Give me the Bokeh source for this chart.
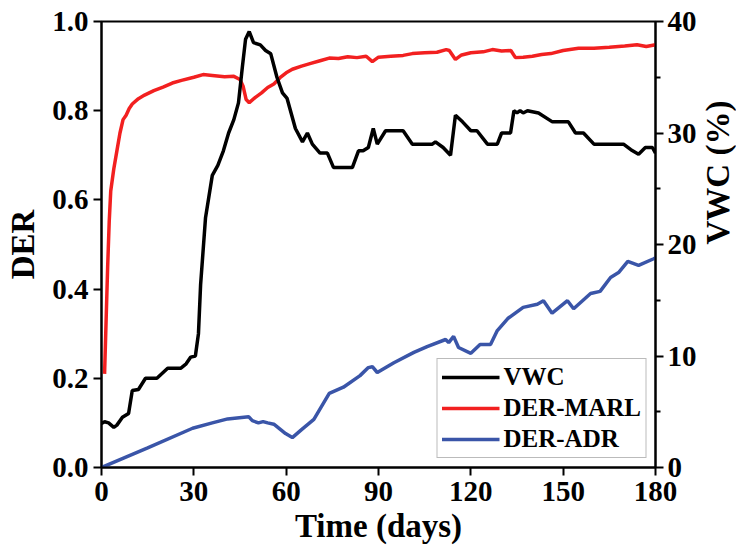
import math
from bokeh.plotting import figure
from bokeh.models import (Range1d, LinearAxis, Legend, LegendItem, FixedTicker,
                          CustomJSTickFormatter)
from bokeh.embed import file_html
from bokeh.resources import INLINE

# ---- data ----
vwc_days = [0, 1, 2.3, 4, 5, 6.8, 8.8, 10, 12, 14.3, 18, 21.5, 25.7, 27.5, 29, 30.5,
            31.5, 32.2, 33.8, 36, 37.8, 39.6, 41.3, 43, 44.5, 45.8, 46.8, 48, 49.4,
            51.6, 53.3, 55, 57, 58.8, 60.3, 63, 65.3, 66.9, 68.5, 71, 73.4, 75.4,
            81.5, 83.5, 85, 86.7, 88.3, 89.6, 92.3, 98, 101, 107.5, 108.5, 111,
            113.4, 115, 117.3, 120, 122, 125.4, 128.6, 130, 132.9, 134, 135, 136,
            137, 138.4, 142, 146.5, 151.7, 154, 156.6, 160, 169.6, 172, 174.5,
            176.7, 179, 180]
vwc = [3.95, 4.1, 4.0, 3.6, 3.8, 4.5, 4.85, 6.9, 7.0, 8.0, 8.0, 8.9, 8.9, 9.3, 9.9,
       10.0, 12.0, 16.4, 22.4, 26.2, 27.1, 28.4, 30.0, 31.2, 32.7, 36.0, 38.4, 39.1,
       38.1, 37.9, 37.4, 37.1, 35.0, 33.6, 33.1, 30.4, 29.2, 30.0, 29.0, 28.2, 28.2,
       26.9, 26.9, 28.4, 28.4, 28.7, 30.4, 29.0, 30.2, 30.2, 29.0, 29.0, 29.2, 28.7,
       28.0, 31.6, 31.0, 30.2, 30.2, 29.0, 29.0, 30.0, 30.0, 32.0, 31.8, 32.0, 31.8,
       32.0, 31.8, 31.0, 31.0, 30.0, 30.0, 29.0, 29.0, 28.5, 28.1, 28.7, 28.7, 28.2]

marl_days = [1, 1.5, 2, 2.5, 3, 4, 5, 6, 7, 8, 9, 10, 12, 14, 17, 20, 23, 26, 30, 33,
             36, 40, 43, 45, 46, 47, 48, 50, 52, 54, 56, 58, 60, 62, 65, 68, 71, 74,
             77, 80, 83, 86, 88, 90, 94, 98, 101, 105, 109, 112, 113, 115, 117, 120,
             124, 127, 130, 133, 134.5, 137, 140, 143, 146, 150, 155, 160, 165, 170,
             174, 177, 180]
der_marl = [0.21, 0.33, 0.45, 0.55, 0.62, 0.67, 0.71, 0.75, 0.78, 0.79, 0.805, 0.815,
            0.827, 0.835, 0.845, 0.853, 0.862, 0.868, 0.875, 0.881, 0.879, 0.876,
            0.877, 0.87, 0.855, 0.825, 0.818, 0.83, 0.84, 0.852, 0.86, 0.874, 0.885,
            0.893, 0.90, 0.906, 0.912, 0.918, 0.917, 0.921, 0.919, 0.922, 0.910, 0.92,
            0.922, 0.924, 0.928, 0.93, 0.931, 0.937, 0.935, 0.915, 0.925, 0.93, 0.932,
            0.937, 0.934, 0.935, 0.919, 0.92, 0.922, 0.926, 0.928, 0.935, 0.94, 0.94,
            0.942, 0.945, 0.948, 0.944, 0.948]

adr_days = [0, 15, 29.6, 36, 41, 47.8, 49, 51, 52.5, 54, 56, 59.8, 62, 65, 69, 74,
            78.6, 84, 86.7, 88, 89.6, 95, 101.5, 105.8, 111.8, 112.8, 114.4, 116, 120,
            123, 126.4, 128.6, 132, 137, 141.6, 143.6, 146.4, 151.4, 153.4, 158.9,
            162, 165.4, 168, 171, 174.5, 179.4, 180]
der_adr = [0.0, 0.044, 0.088, 0.1, 0.109, 0.114, 0.105, 0.1, 0.103, 0.1, 0.097, 0.076,
           0.067, 0.085, 0.108, 0.166, 0.18, 0.206, 0.224, 0.226, 0.213, 0.235, 0.258,
           0.271, 0.287, 0.28, 0.294, 0.269, 0.256, 0.276, 0.276, 0.307, 0.334, 0.359,
           0.366, 0.374, 0.346, 0.374, 0.356, 0.39, 0.395, 0.426, 0.437, 0.462, 0.453,
           0.468, 0.47]

x_ticks = [0, 30, 60, 90, 120, 150, 180]
der_ticks = [0.0, 0.2, 0.4, 0.6, 0.8, 1.0]
vwc_ticks = [0, 10, 20, 30, 40]
vwc_minor = [5, 15, 25, 35]

FONT = "Liberation Serif"

p = figure(width=736, height=555, output_backend="svg", toolbar_location=None,
           x_range=Range1d(0, 180), y_range=Range1d(0, 1.0),
           min_border_left=101, min_border_right=81, min_border_top=21,
           min_border_bottom=88)
p.frame_width = 554
p.frame_height = 446
p.extra_y_ranges = {"vwc": Range1d(0, 40)}
p.grid.visible = False
p.outline_line_color = "black"
p.outline_line_width = 2
p.background_fill_color = "white"
p.border_fill_color = "white"

l_marl = p.line(marl_days, der_marl, line_color="#f22020", line_width=3.5)
l_adr = p.line(adr_days, der_adr, line_color="#3a55a8", line_width=3.5)
l_vwc = p.line(vwc_days, vwc, line_color="black", line_width=3.5, y_range_name="vwc")

right = LinearAxis(y_range_name="vwc", axis_label="VWC (%)")
p.add_layout(right, "right")

for ax in [p.xaxis[0], p.yaxis[0], right]:
    ax.axis_line_width = 2
    ax.axis_line_color = "black"
    ax.major_tick_line_width = 2
    ax.major_tick_in = 0
    ax.major_tick_out = 8
    ax.minor_tick_in = 0
    ax.minor_tick_out = 5
    ax.minor_tick_line_width = 2
    ax.major_label_text_font = FONT
    ax.major_label_text_font_style = "bold"
    ax.major_label_text_font_size = "29px"
    ax.major_label_text_color = "black"
    ax.axis_label_text_font = FONT
    ax.axis_label_text_font_style = "bold"
    ax.axis_label_text_font_size = "33px"
    ax.axis_label_text_color = "black"

p.xaxis[0].ticker = FixedTicker(ticks=x_ticks)
p.xaxis[0].axis_label = "Time (days)"
p.xaxis[0].axis_label_standoff = 4
p.xaxis[0].major_label_standoff = 6
p.yaxis[0].ticker = FixedTicker(ticks=der_ticks)
p.yaxis[0].formatter = CustomJSTickFormatter(code="return tick.toFixed(1);")
p.yaxis[0].axis_label = "DER"
p.yaxis[0].major_label_standoff = 5
p.yaxis[0].axis_label_standoff = 8
right.ticker = FixedTicker(ticks=vwc_ticks, minor_ticks=vwc_minor)
right.major_label_standoff = 4
right.axis_label_standoff = 18
right.axis_label_orientation = math.pi / 2

legend = Legend(items=[
    LegendItem(label="VWC", renderers=[l_vwc]),
    LegendItem(label="DER-MARL", renderers=[l_marl]),
    LegendItem(label="DER-ADR", renderers=[l_adr]),
], location="bottom_right")
legend.margin = 9
legend.padding = 4
legend.spacing = 3
legend.glyph_width = 58
legend.glyph_height = 28
legend.label_height = 28
legend.label_standoff = 4
legend.label_text_font = FONT
legend.label_text_font_style = "bold"
legend.label_text_font_size = "25px"
legend.label_text_color = "black"
legend.border_line_color = "#777777"
legend.border_line_width = 1.5
legend.background_fill_color = "white"
legend.background_fill_alpha = 1.0
p.add_layout(legend, "center")

open("out.html", "w").write(file_html(p, INLINE))
